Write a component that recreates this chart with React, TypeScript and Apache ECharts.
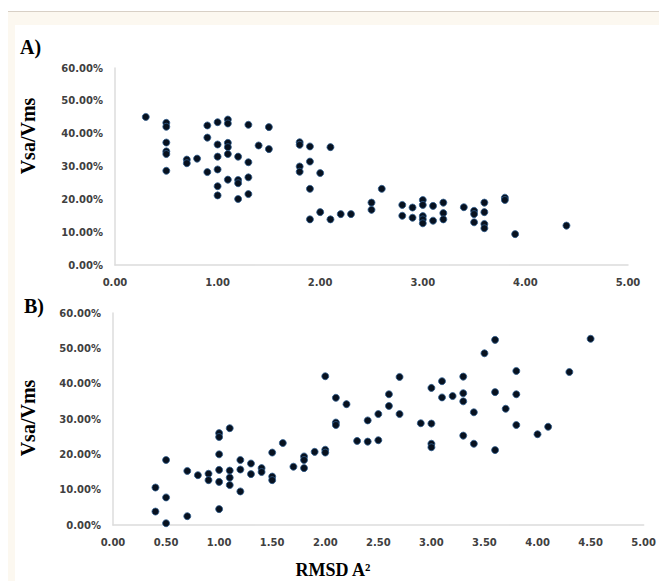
import React, { useEffect, useRef } from "react";
import * as echarts from "echarts";

// Panel A: RMSD (x) vs Vsa/Vms % (y)
const panelAX: number[] = [
  0.3,
  0.5, 0.5, 0.5, 0.5, 0.5, 0.5,
  0.7, 0.7,
  0.8,
  0.9, 0.9, 0.9,
  1.0, 1.0, 1.0, 1.0, 1.0, 1.0,
  1.1, 1.1, 1.1, 1.1, 1.1, 1.1,
  1.2, 1.2, 1.2, 1.2,
  1.3, 1.3, 1.3, 1.3,
  1.4,
  1.5, 1.5,
  1.8, 1.8, 1.8, 1.8,
  1.9, 1.9, 1.9, 1.9,
  2.0, 2.0,
  2.1, 2.1,
  2.2,
  2.3,
  2.5, 2.5,
  2.6,
  2.8, 2.8,
  2.9, 2.9,
  3.0, 3.0, 3.0, 3.0, 3.0,
  3.1, 3.1,
  3.2, 3.2, 3.2,
  3.4,
  3.5, 3.5, 3.5,
  3.6, 3.6, 3.6, 3.6,
  3.8, 3.8,
  3.9,
  4.4,
];
const panelAY: number[] = [
  45.1,
  43.3, 42.1, 37.3, 34.6, 33.8, 28.7,
  32.1, 31.0,
  32.4,
  42.5, 38.8, 28.3,
  43.5, 36.7, 33.0, 29.1, 24.0, 21.2,
  44.3, 43.1, 37.2, 35.9, 33.8, 26.0,
  33.0, 25.9, 24.9, 20.1,
  42.7, 31.3, 26.7, 21.6,
  36.4,
  42.0, 35.3,
  37.4, 36.6, 30.0, 28.4,
  36.1, 31.5, 23.2, 13.9,
  28.0, 16.1,
  35.9, 13.9,
  15.5,
  15.5,
  19.0, 16.8,
  23.2,
  18.3, 15.0,
  17.5, 14.4,
  19.8, 18.3, 14.9, 13.9, 12.7,
  18.0, 13.5,
  19.0, 15.8, 13.9,
  17.6,
  16.5, 15.5, 13.0,
  19.0, 16.1, 12.5, 11.2,
  20.5, 19.8,
  9.4,
  12.0,
];

// Panel B
const panelBX: number[] = [
  0.4, 0.4,
  0.5, 0.5, 0.5,
  0.7, 0.7,
  0.8,
  0.9, 0.9,
  1.0, 1.0, 1.0, 1.0, 1.0, 1.0,
  1.1, 1.1, 1.1, 1.1,
  1.2, 1.2, 1.2,
  1.3, 1.3,
  1.4, 1.4,
  1.5, 1.5, 1.5,
  1.6,
  1.7,
  1.8, 1.8, 1.8,
  1.9,
  2.0, 2.0, 2.0,
  2.1, 2.1, 2.1,
  2.2,
  2.3,
  2.4, 2.4,
  2.5, 2.5,
  2.6, 2.6,
  2.7, 2.7,
  2.9,
  3.0, 3.0, 3.0, 3.0,
  3.1, 3.1,
  3.2,
  3.3, 3.3, 3.3, 3.3,
  3.4, 3.4,
  3.5,
  3.6, 3.6, 3.6,
  3.7,
  3.8, 3.8, 3.8,
  4.0,
  4.1,
  4.3,
  4.5,
];
const panelBY: number[] = [
  10.6, 3.8,
  18.4, 7.8, 0.5,
  15.3, 2.5,
  14.1,
  14.5, 12.7,
  26.0, 24.9, 20.0, 15.6, 12.2, 4.5,
  27.4, 15.4, 13.4, 11.3,
  18.4, 15.7, 9.5,
  17.4, 14.4,
  16.1, 15.0,
  20.5, 13.7, 12.7,
  23.2,
  16.5,
  19.4, 18.4, 16.1,
  20.7,
  42.1, 21.3, 20.5,
  36.0, 29.0, 28.3,
  34.2,
  23.8,
  29.6, 23.6,
  31.4, 24.0,
  37.0, 33.7,
  41.9, 31.4,
  28.8,
  38.8, 28.7, 23.0, 22.0,
  40.7, 36.1,
  36.5,
  42.0, 37.3, 35.0, 25.3,
  31.9, 23.0,
  48.6,
  52.4, 37.6, 21.2,
  32.9,
  43.6, 37.0, 28.3,
  25.7,
  27.8,
  43.3,
  52.7,
];

const yTickValues: number[] = [0, 10, 20, 30, 40, 50, 60];
const panelLabels: string[] = ["A)", "B)"];
const yTitle = "Vsa/Vms";
const xTitle = "RMSD A\u00B2";

const tickFont = {
  fontFamily: "DejaVu Sans",
  fontWeight: "bold" as const,
  fontSize: 10,
  color: "#404040",
};
const serifBold = "bold 20px 'Liberation Serif', 'Times New Roman', serif";

export default function App() {
  const ref = useRef<HTMLDivElement>(null);

  useEffect(() => {
    if (!ref.current) return;
    const chart = echarts.init(ref.current, undefined, { renderer: "svg" });
    const pairs = (xs: number[], ys: number[]) => xs.map((x, i) => [x, ys[i]]);
    const yMax = yTickValues[yTickValues.length - 1];
    const yAxisBase = (gridIndex: number) => ({
      type: "value" as const,
      gridIndex,
      min: yTickValues[0],
      max: yMax,
      interval: 10,
      axisLine: { show: true, lineStyle: { color: "#dcdcdc", width: 1.5 } },
      axisTick: { show: false },
      splitLine: { show: false },
      axisLabel: {
        ...tickFont,
        margin: 12,
        formatter: (v: number) => v.toFixed(2) + "%",
      },
    });
    const markerStyle = {
      color: "#07111f",
      borderColor: "#2f5d8e",
      borderWidth: 0.8,
      opacity: 1,
    };
    chart.setOption({
      animation: false,
      backgroundColor: "transparent",
      grid: [
        { left: 115, top: 68, width: 513, height: 197 },
        { left: 113, top: 313, width: 534.5, height: 212 },
      ],
      xAxis: [
        {
          type: "value",
          gridIndex: 0,
          min: 0,
          max: 5,
          interval: 1,
          axisLine: { show: true, lineStyle: { color: "#dcdcdc", width: 1.5 } },
          axisTick: { show: false },
          splitLine: { show: false },
          axisLabel: { ...tickFont, margin: 12, formatter: (v: number) => v.toFixed(2) },
        },
        {
          type: "value",
          gridIndex: 1,
          min: 0,
          max: 5,
          interval: 0.5,
          axisLine: { show: true, lineStyle: { color: "#dcdcdc", width: 1.5 } },
          axisTick: { show: false },
          splitLine: { show: false },
          axisLabel: { ...tickFont, margin: 12, formatter: (v: number) => v.toFixed(2) },
        },
      ],
      yAxis: [yAxisBase(0), yAxisBase(1)],
      series: [
        {
          type: "scatter",
          xAxisIndex: 0,
          yAxisIndex: 0,
          symbolSize: 7,
          itemStyle: markerStyle,
          data: pairs(panelAX, panelAY),
        },
        {
          type: "scatter",
          xAxisIndex: 1,
          yAxisIndex: 1,
          symbolSize: 7,
          itemStyle: markerStyle,
          data: pairs(panelBX, panelBY),
        },
      ],
      graphic: [
        {
          type: "text",
          x: 20,
          y: 47,
          style: { text: panelLabels[0], font: serifBold, fill: "#000", textVerticalAlign: "middle" },
        },
        {
          type: "text",
          x: 24,
          y: 306,
          style: { text: panelLabels[1], font: serifBold, fill: "#000", textVerticalAlign: "middle" },
        },
        {
          type: "text",
          x: 28,
          y: 136,
          rotation: Math.PI / 2,
          style: {
            text: yTitle,
            font: serifBold,
            fill: "#000",
            textAlign: "center",
            textVerticalAlign: "middle",
          },
        },
        {
          type: "text",
          x: 28,
          y: 418,
          rotation: Math.PI / 2,
          style: {
            text: yTitle,
            font: serifBold,
            fill: "#000",
            textAlign: "center",
            textVerticalAlign: "middle",
          },
        },
        {
          type: "text",
          x: 333,
          y: 570,
          style: {
            text: xTitle,
            font: "bold 18px 'Liberation Serif', 'Times New Roman', serif",
            fill: "#000",
            textAlign: "center",
            textVerticalAlign: "middle",
          },
        },
      ],
    });
    return () => chart.dispose();
  }, []);

  return (
    <div
      style={{
        position: "fixed",
        left: 0,
        top: 0,
        width: 659,
        height: 581,
        background: "#ffffff",
        overflow: "hidden",
      }}
    >
      <div
        style={{
          position: "absolute",
          left: 8,
          top: 11,
          right: 0,
          bottom: 0,
          background: "#fcf8f0",
          borderTop: "1px solid #d8d0c6",
        }}
      />
      <div
        style={{
          position: "absolute",
          left: 15,
          top: 25,
          right: 0,
          bottom: 0,
          background: "#ffffff",
        }}
      />
      <div ref={ref} style={{ position: "absolute", left: 0, top: 0, width: 659, height: 581 }} />
    </div>
  );
}
